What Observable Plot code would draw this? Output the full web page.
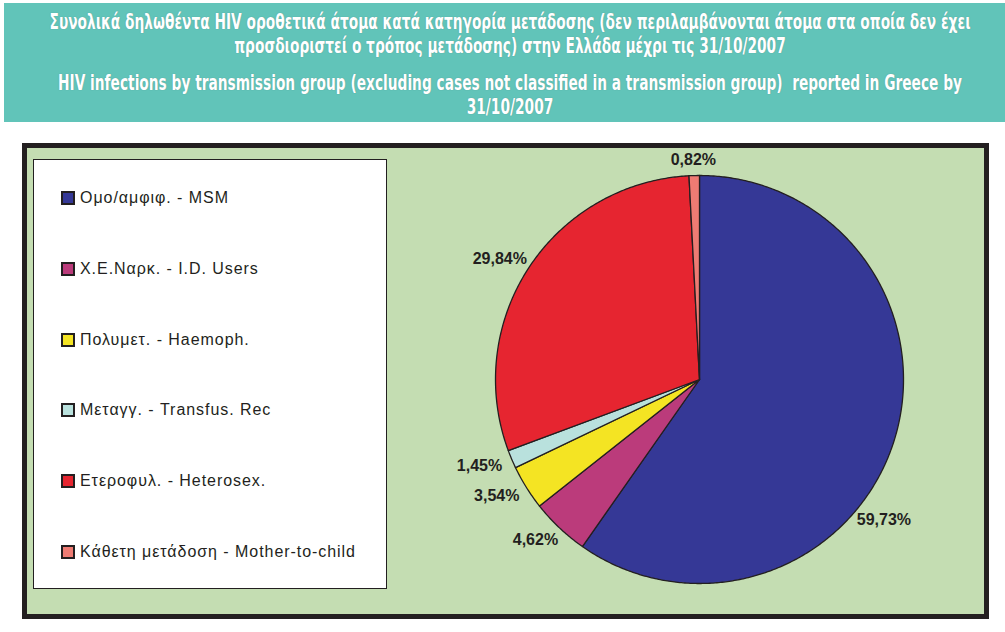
<!DOCTYPE html>
<html>
<head>
<meta charset="utf-8">
<script src="https://cdn.jsdelivr.net/npm/d3@7"></script>
<script src="https://cdn.jsdelivr.net/npm/@observablehq/plot@0.6"></script>
<style>
  html, body { margin: 0; padding: 0; background: #ffffff; }
  body { width: 1005px; height: 632px; position: relative; overflow: hidden; font-family: "Liberation Sans", Arial, sans-serif; }
  #header { position: absolute; left: 4px; top: 3px; width: 1001px; height: 119px; background: #61C4B9; color: #ffffff;
    font-family: "DejaVu Sans", sans-serif; font-stretch: condensed; font-weight: bold; font-size: 20.5px; }
  .hl { position: absolute; left: 0; width: 0; height: 24px; line-height: 24px; white-space: nowrap; }
  .hl span { position: absolute; left: 0; top: 0; transform-origin: 0 50%; text-shadow: 0 0 1px rgba(60,90,90,0.5); }
  #frame { position: absolute; left: 22px; top: 143px; width: 967px; height: 476px; box-sizing: border-box;
    border: 5px solid #231F20; background: #C4DDB2; }
  #legend { position: absolute; left: 33px; top: 159px; width: 354px; height: 430px; box-sizing: border-box;
    border: 1px solid #231F20; background: #ffffff; }
  .item { position: absolute; left: 27px; height: 20px; display: flex; align-items: center; font-size: 16px; letter-spacing: 0.95px; color: #231F20; white-space: nowrap; }
  .sw { width: 10px; height: 10px; border: 2px solid #231F20; margin-right: 5px; flex: none; }
  #chart { position: absolute; left: 0; top: 0; }
</style>
</head>
<body>
<div id="header"></div>
<div id="frame"></div>
<div id="legend"></div>
<div id="chart"></div>
<script>
// ---- data ----
const titleLines = [
  "Συνολικά δηλωθέντα HIV οροθετικά άτομα κατά κατηγορία μετάδοσης (δεν περιλαμβάνονται άτομα στα οποία δεν έχει",
  "προσδιοριστεί ο τρόπος μετάδοσης) στην Ελλάδα μέχρι τις 31/10/2007",
  "HIV infections by transmission group (excluding cases not classified in a transmission group)\u00a0 reported in Greece by",
  "31/10/2007"
];
const categories = [
  "Ομο/αμφιφ. - MSM",
  "Χ.Ε.Ναρκ. - I.D. Users",
  "Πολυμετ. - Haemoph.",
  "Μεταγγ. - Transfus. Rec",
  "Ετεροφυλ. - Heterosex.",
  "Κάθετη μετάδοση - Mother-to-child"
];
const percents = [59.73, 4.62, 3.54, 1.45, 29.84, 0.82];
const percentLabels = ["59,73%", "4,62%", "3,54%", "1,45%", "29,84%", "0,82%"];
const colors = ["#353896", "#BB3B7B", "#F4E423", "#B9E1DD", "#E62530", "#EE7B73"];

// ---- layout constants ----
const cx = 699, cy = 379, R = 204;
const labelAngleNudge = [22, 0, 0, 0, 0, 0]; // degrees, moved label of the largest slice

// header: lines condensed horizontally to the reference's narrow bold face
const header = document.getElementById("header");
const lineTops = [7, 31, 68, 92];
const spans = titleLines.map((t, i) => {
  const d = document.createElement("div");
  d.className = "hl";
  d.style.top = lineTops[i] + "px";
  const s = document.createElement("span");
  s.textContent = t;
  d.appendChild(s);
  header.appendChild(d);
  return s;
});
const w0 = spans[0].getBoundingClientRect().width;
const k = 921 / w0;
const centerX = 506;
spans.forEach(s => {
  const w = s.getBoundingClientRect().width;
  s.style.transform = `translateX(${centerX - w * k / 2}px) scaleX(${k})`;
});

// legend (HTML, built from arrays)
const legend = document.getElementById("legend");
categories.forEach((c, i) => {
  const d = document.createElement("div");
  d.className = "item";
  d.style.top = (197 - 159 - 10 + i * 70.8) + "px";
  d.innerHTML = `<span class="sw" style="background:${colors[i]}"></span><span>${c}</span>`;
  legend.appendChild(d);
});

// pie geometry via d3.pie (clockwise from 12 o'clock, data order)
const arcs = d3.pie().sort(null).value(d => d)(percents);
const polys = [];
arcs.forEach((a, i) => {
  const n = Math.max(2, Math.ceil((a.endAngle - a.startAngle) / (Math.PI / 360)));
  polys.push({cat: categories[i], x: 0, y: 0});
  for (let j = 0; j <= n; j++) {
    const t = a.startAngle + (a.endAngle - a.startAngle) * j / n;
    polys.push({cat: categories[i], x: Math.sin(t), y: Math.cos(t)});
  }
  polys.push({cat: categories[i], x: 0, y: 0});
});

const g = 8 / R, hw = 27 / R, hh = 8 / R;
const labels = arcs.map((a, i) => {
  const t = (a.startAngle + a.endAngle) / 2 + labelAngleNudge[i] * Math.PI / 180;
  const ux = Math.sin(t), uy = Math.cos(t);
  return {text: percentLabels[i], x: (1 + g) * ux + hw * ux, y: (1 + g) * uy + hh * uy};
});

const plot = Plot.plot({
  width: 1005,
  height: 632,
  margin: 0,
  style: {background: "transparent", overflow: "visible"},
  x: {domain: [-1, 1], range: [cx - R, cx + R], axis: null},
  y: {domain: [-1, 1], range: [cy + R, cy - R], axis: null},
  color: {type: "ordinal", domain: categories, range: colors},
  marks: [
    Plot.line(polys, {x: "x", y: "y", z: "cat", fill: "cat", stroke: "#231F20", strokeWidth: 1.3, strokeLinejoin: "round", curve: "linear"}),
    Plot.text(labels, {x: "x", y: "y", text: "text", textAnchor: "middle", lineAnchor: "middle",
      fontSize: 16, fontWeight: "bold", fill: "#231F20", fontFamily: "Liberation Sans, Arial, sans-serif",
      style: "letter-spacing:1px"})
  ]
});
document.getElementById("chart").appendChild(plot);
</script>
</body>
</html>
